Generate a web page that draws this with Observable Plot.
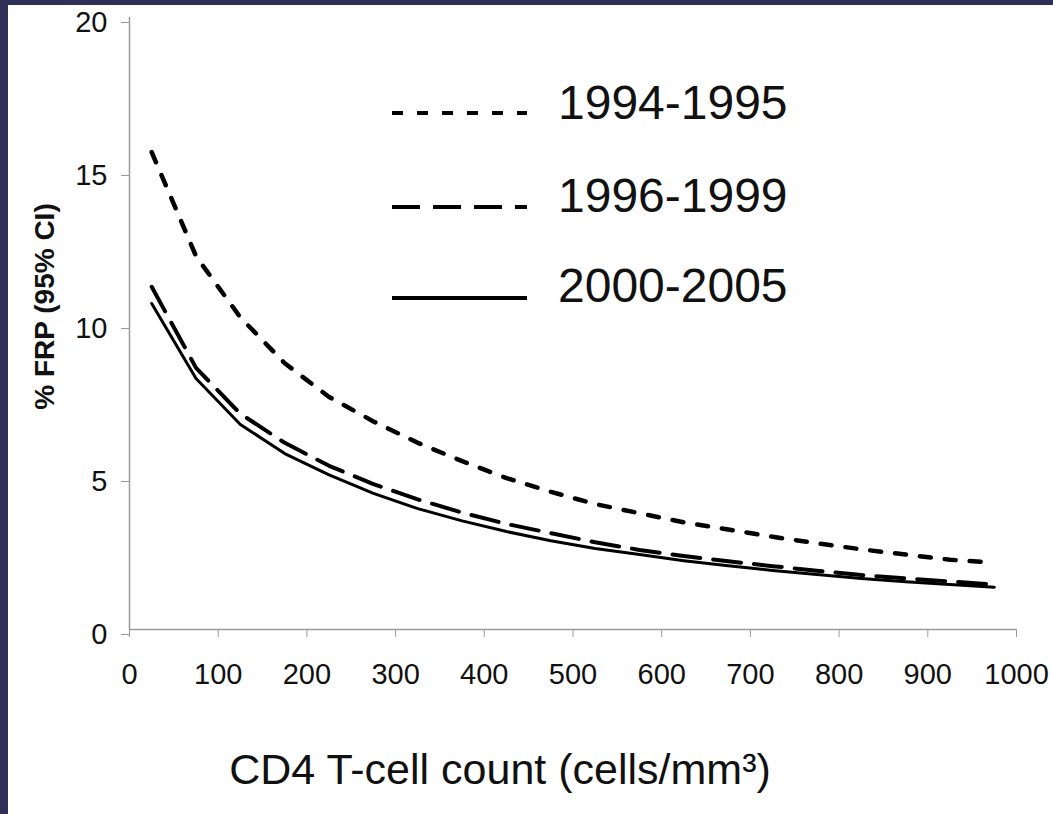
<!DOCTYPE html>
<html>
<head>
<meta charset="utf-8">
<script src="https://cdn.jsdelivr.net/npm/d3@7"></script>
<script src="https://cdn.jsdelivr.net/npm/@observablehq/plot@0.6"></script>
<style>
  html, body { margin: 0; padding: 0; background: #2f2f58; width: 1053px; height: 814px; overflow: hidden; }
  #wrap { position: absolute; left: 8px; top: 5px; width: 1045px; height: 809px; background: #fff; }
  #wrap svg { position: absolute; left: 0; top: 0; }
  #legend text { font-family: "Liberation Sans", Arial, sans-serif; }
</style>
</head>
<body>
<div id="wrap"></div>
<script>
// ---- data ----
const cd4 = [25, 75, 125, 175, 225, 275, 325, 375, 425, 475, 525, 575, 625, 675, 725, 775, 825, 875, 925, 975];
const frp1994 = [15.6, 12.2, 10.2, 8.7, 7.6, 6.8, 6.1, 5.5, 4.95, 4.5, 4.1, 3.8, 3.5, 3.27, 3.03, 2.82, 2.62, 2.45, 2.28, 2.18];
const frp1996 = [11.2, 8.55, 7.05, 6.1, 5.35, 4.75, 4.25, 3.82, 3.45, 3.15, 2.85, 2.6, 2.4, 2.23, 2.07, 1.92, 1.78, 1.67, 1.57, 1.47];
const frp2000 = [10.65, 8.2, 6.7, 5.75, 5.05, 4.45, 3.95, 3.55, 3.2, 2.9, 2.65, 2.45, 2.25, 2.08, 1.93, 1.8, 1.67, 1.56, 1.47, 1.38];
const seriesNames = ["1994-1995", "1996-1999", "2000-2005"];
const seriesValues = [frp1994, frp1996, frp2000];
const seriesDash = ["11,14", "28,13", null];
const seriesWidth = [4.5, 4, 3];
const xTicks = [0, 100, 200, 300, 400, 500, 600, 700, 800, 900, 1000];
const yTicks = [0, 5, 10, 15, 20];
const xTitle = "CD4 T-cell count (cells/mm³)";
const yTitle = "% FRP (95% CI)";

const font = '"Liberation Sans", Arial, sans-serif';
const axisColor = "#9a9a9a";

const lineMarks = seriesNames.map((name, i) =>
  Plot.line(cd4.map((x, j) => ({x, y: seriesValues[i][j], series: name})), {
    x: "x", y: "y",
    stroke: "#000",
    strokeWidth: seriesWidth[i],
    strokeDasharray: seriesDash[i] || undefined,
    strokeLinejoin: "round"
  })
);

const chart = Plot.plot({
  width: 1045,
  height: 809,
  marginLeft: 121,
  marginRight: 37,
  marginTop: 12,
  marginBottom: 185,
  style: { fontFamily: font, background: "transparent", color: "#111" },
  x: { domain: [0, 1000] },
  y: { domain: [0, 20] },
  marks: [
    Plot.ruleX([0], { stroke: axisColor, strokeWidth: 1.5 }),
    Plot.ruleY([0], { stroke: axisColor, strokeWidth: 1.5 }),
    Plot.axisX({ ticks: xTicks, tickSize: 8, tickPadding: 26, fontSize: 29, stroke: axisColor, fill: "#111", tickFormat: d => String(d), label: null }),
    Plot.axisY({ ticks: yTicks, tickSize: 8, tickPadding: 14, fontSize: 29, stroke: axisColor, fill: "#111", dy: 5, tickFormat: d => String(d), label: null }),
    ...lineMarks,
    Plot.text([xTitle], { frameAnchor: "bottom", textAnchor: "middle", lineAnchor: "middle", dx: -73, dy: 141, fontSize: 43, fill: "#111" }),
    Plot.text([yTitle], { frameAnchor: "left", textAnchor: "middle", lineAnchor: "middle", rotate: -90, dx: -84, dy: -17, fontSize: 28, fontWeight: "bold", fill: "#111" })
  ]
});
document.getElementById("wrap").appendChild(chart);

// legend (inside plot area, upper middle)
const ns = "http://www.w3.org/2000/svg";
const leg = document.createElementNS(ns, "svg");
leg.setAttribute("id", "legend");
leg.setAttribute("width", 1045);
leg.setAttribute("height", 809);
leg.style.pointerEvents = "none";
const legLineY = [108, 202, 293];
const legTextY = [97, 190, 280];
seriesNames.forEach((name, i) => {
  const l = document.createElementNS(ns, "line");
  l.setAttribute("x1", 384); l.setAttribute("x2", 519);
  l.setAttribute("y1", legLineY[i]); l.setAttribute("y2", legLineY[i]);
  l.setAttribute("stroke", "#000");
  l.setAttribute("stroke-width", 4);
  if (seriesDash[i]) l.setAttribute("stroke-dasharray", seriesDash[i]);
  leg.appendChild(l);
  const t = document.createElementNS(ns, "text");
  t.setAttribute("x", 550);
  t.setAttribute("y", legTextY[i]);
  t.setAttribute("dominant-baseline", "central");
  t.setAttribute("font-size", 48);
  t.setAttribute("fill", "#111");
  t.textContent = name;
  leg.appendChild(t);
});
document.getElementById("wrap").appendChild(leg);
</script>
</body>
</html>
